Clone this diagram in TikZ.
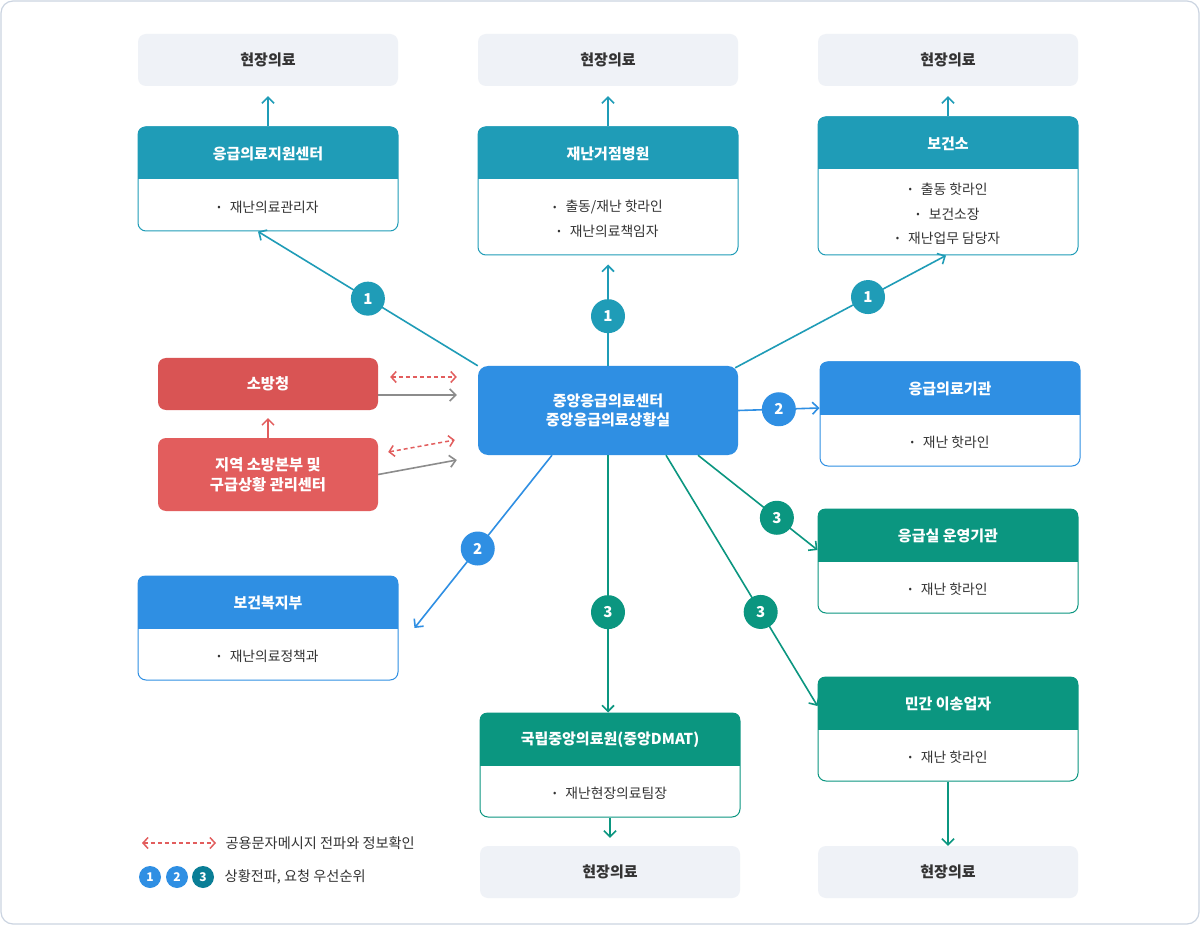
\documentclass[tikz,border=0pt]{standalone}
\usepackage{fontspec}
\setmainfont{Noto Sans CJK KR}
\usetikzlibrary{arrows.meta,positioning,calc}
\definecolor{Teal}{HTML}{1F9CB7}
\definecolor{Sky}{HTML}{2F8FE3}
\definecolor{Jade}{HTML}{0B9680}
\definecolor{Fire}{HTML}{D95454}
\definecolor{FireLt}{HTML}{E25D5D}
\definecolor{Field}{HTML}{EFF2F7}
\definecolor{Ink}{HTML}{333333}
\definecolor{Frame}{HTML}{CBD4E1}
\definecolor{Smoke}{HTML}{8C8C8C}
\definecolor{Deep}{HTML}{0A7E96}
\tikzset{
 field/.style={fill=Field,rounded corners=8pt,minimum width=260pt,minimum height=52pt,font=\fontsize{15}{18}\selectfont\bfseries,text=Ink},
 card/.style={draw=#1,fill=white,rounded corners=8pt,minimum width=260pt,line width=1pt},
 cardtitle/.style={font=\fontsize{15}{18}\selectfont\bfseries,text=white},
 cardtext/.style={font=\fontsize{13.8}{24.5}\selectfont,text=Ink,align=center},
 redbox/.style={fill=#1,rounded corners=8pt,minimum width=220pt,text=white,align=center,font=\fontsize{15.3}{20}\selectfont\bfseries},
 hub/.style={fill=Sky,rounded corners=10pt,minimum width=260pt,minimum height=89pt,text=white,align=center,font=\fontsize{15}{19}\selectfont\bfseries},
 badge/.style={circle,fill=#1,text=white,minimum size=34pt,inner sep=0pt,font=\fontsize{15}{15}\selectfont\bfseries},
 minibadge/.style={circle,fill=#1,text=white,minimum size=22pt,inner sep=0pt,font=\fontsize{12}{12}\selectfont\bfseries},
 arr/.style={-{Straight Barb[length=6pt,width=12pt]},line width=1.6pt,draw=#1},
 greyarr/.style={arr=Smoke},
 sharearr/.style={{Straight Barb[length=5pt,width=11pt]}-{Straight Barb[length=5pt,width=11pt]},line width=1.5pt,draw=FireLt,dash pattern=on 4pt off 3pt},
 legendtext/.style={font=\fontsize{14.2}{17}\selectfont,text=Ink}
}
\newcommand{\dotitem}{\raisebox{1.8pt}{\fontsize{10}{10}\selectfont\textbullet}\hspace{9pt}}
% card: name, centre x, top y, height, colour, title, items
\newcommand{\orgcard}[7]{%
 \node[card=#5,minimum height=#4pt] (#1) at (#2,{#3+#4/2}) {};
 \begin{scope}
  \clip[rounded corners=8pt] (#1.north west) rectangle (#1.south east);
  \fill[#5] (#1.north west) rectangle ([yshift=-53pt]#1.north east);
 \end{scope}
 \node[cardtitle] (#1-title) at ([yshift=-27pt]#1.north) {#6};
 \node[cardtext] (#1-items) at ($(#1.south)!.5!([yshift=-53pt]#1.north)+(0,1.5)$) {#7};
}
\begin{document}
\begin{tikzpicture}[x=1pt,y=-1pt]
\useasboundingbox (0,0) rectangle (1200,925);
\draw[Frame,line width=1.2pt,fill=white,rounded corners=12pt] (1,1) rectangle (1199,924);

% field care
\node[field] (field1) at (268,60) {현장의료};
\node[field] (field2) at (608,60) {현장의료};
\node[field] (field3) at (948,60) {현장의료};
\node[field] (field4) at (610,872) {현장의료};
\node[field] (field5) at (948,872) {현장의료};

% organisations
\orgcard{support}{268}{127}{104}{Teal}{응급의료지원센터}{\dotitem 재난의료관리자}
\orgcard{hospital}{608}{127}{128}{Teal}{재난거점병원}{\dotitem 출동/재난 핫라인\\\dotitem 재난의료책임자}
\orgcard{health}{948}{117}{138}{Teal}{보건소}{\dotitem 출동 핫라인\\\dotitem 보건소장\\\dotitem 재난업무 담당자}
\orgcard{er}{950}{362}{104}{Sky}{응급의료기관}{\dotitem 재난 핫라인}
\orgcard{erop}{948}{509}{104}{Jade}{응급실 운영기관}{\dotitem 재난 핫라인}
\orgcard{ministry}{268}{576}{104}{Sky}{보건복지부}{\dotitem 재난의료정책과}
\orgcard{transport}{948}{677}{104}{Jade}{민간 이송업자}{\dotitem 재난 핫라인}
\orgcard{dmat}{610}{713}{104}{Jade}{국립중앙의료원(중앙DMAT)}{\dotitem 재난현장의료팀장}

\node[hub] (hub) at (608,410.5) {중앙응급의료센터\\중앙응급의료상황실};
\node[redbox=Fire,minimum height=52pt] (fire) at (268,384) {소방청};
\node[redbox=FireLt,minimum height=73pt] (regional) at (268,474.5) {지역 소방본부 및\\구급상황 관리센터};

% to field care
\draw[arr=Teal,shorten >=10pt] (support.north) -- (field1.south);
\draw[arr=Teal,shorten >=10pt] (hospital.north) -- (field2.south);
\draw[arr=Teal,shorten >=10pt] (health.north) -- (field3.south);
\draw[arr=Jade,shorten >=8pt] (dmat.south) -- (field4.north);
\draw[arr=Jade] (transport.south) -- (field5.north);

% priority 1
\draw[arr=Teal] (hub.north west) -- ([xshift=-10pt]support.south) node[badge=Teal,pos=.5] (p1a) {1};
\draw[arr=Teal,shorten >=9pt] (hub.north) -- (hospital.south) node[badge=Teal,pos=.45] (p1b) {1};
\draw[arr=Teal] ([xshift=-3pt,yshift=-2pt]hub.north east) -- ([xshift=-2pt]health.south) node[badge=Teal,pos=.63] (p1c) {1};
% priority 2
\draw[arr=Sky] (hub.east) -- ([yshift=6pt]er.west) node[badge=Sky,pos=.5] (p2a) {2};
\draw[arr=Sky] ([xshift=-56pt]hub.south) -- ([xshift=16pt]ministry.east) node[badge=Sky,pos=.54] (p2b) {2};
% priority 3
\draw[arr=Jade] ([xshift=90pt]hub.south) -- ([yshift=11pt]erop.west) node[badge=Jade,pos=.66] (p3a) {3};
\draw[arr=Jade] (hub.south) -- (hub.south |- dmat.north) node[badge=Jade,pos=.61] (p3b) {3};
\draw[arr=Jade] ([xshift=58pt]hub.south) -- ([yshift=23pt]transport.west) node[badge=Jade,pos=.625] (p3c) {3};

% fire services
\draw[arr=FireLt,line width=1.4pt,shorten >=8pt] (regional.north) -- (fire.south);
\draw[greyarr] ([yshift=-11pt]fire.east) -- ($(hub.west)+(-21,-15.5)$);
\draw[sharearr] ($(fire.east)+(12,-7)$) -- ($(hub.west)+(-21,-33.5)$);
\draw[greyarr] (regional.east) -- ($(hub.west)+(-21,49.5)$);
\draw[sharearr] ($(regional.east)+(10,-22.5)$) -- ($(hub.west)+(-23,29.5)$);

% legend
\coordinate (legA) at (142,843);
\coordinate (legB) at (216,843);
\draw[sharearr] (legA) -- (legB);
\node[legendtext,anchor=west] (legtext1) at (222,843) {공용문자메시지 전파와 정보확인};
\node[minibadge=Sky] (k1) at (150,877) {1};
\node[minibadge=Sky] (k2) at (177,877) {2};
\node[minibadge=Deep] (k3) at (203,877) {3};
\node[legendtext,right=7pt of k3] (legtext2) {상황전파, 요청 우선순위};
\end{tikzpicture}
\end{document}
